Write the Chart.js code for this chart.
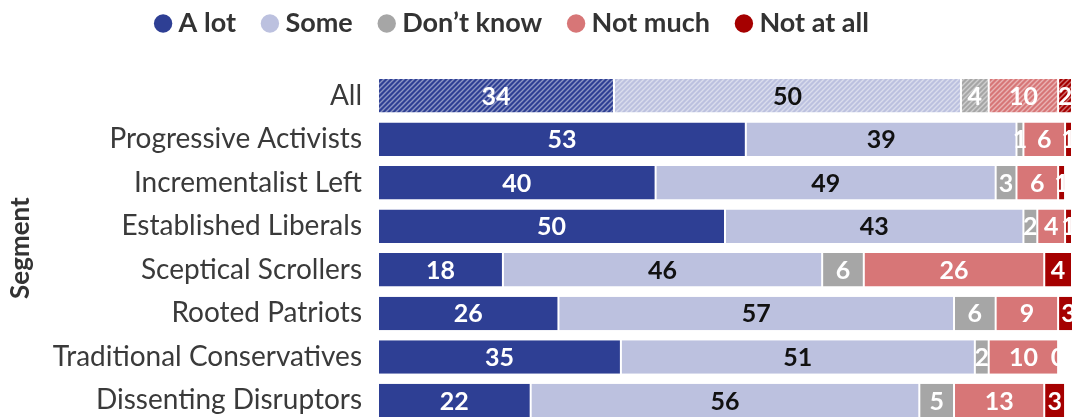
<!DOCTYPE html>
<html>
<head>
<meta charset="utf-8">
<script src="https://cdn.jsdelivr.net/npm/chart.js@4/dist/chart.umd.min.js"></script>
<style>
  html, body { margin: 0; padding: 0; background: #fff; overflow: hidden; }
  #wrap { position: absolute; left: -42px; top: 0; width: 1114px; height: 455px; }
</style>
</head>
<body>
<div id="wrap"><canvas id="myChart" width="1114" height="455"></canvas></div>
<script>
var segments = ['All', 'Progressive Activists', 'Incrementalist Left', 'Established Liberals',
    'Sceptical Scrollers', 'Rooted Patriots', 'Traditional Conservatives', 'Dissenting Disruptors'];
var seriesNames = ['A lot', 'Some', 'Don\u2019t know', 'Not much', 'Not at all'];
var aLot     = [34, 53, 40, 50, 18, 26, 35, 22];
var some     = [50, 39, 49, 43, 46, 57, 51, 56];
var dontKnow = [4, 1, 3, 2, 6, 6, 2, 5];
var notMuch  = [10, 6, 6, 4, 26, 9, 10, 13];
var notAtAll = [2, 1, 1, 1, 4, 3, 0, 3];

var colors = ['#2e3f94', '#bcc1df', '#a6a6a6', '#d77677', '#a50000'];
var labelColors = ['#fff', '#111', '#fff', '#fff', '#fff'];

// striped fill used for the "All" row
function stripes(color){
    var c = document.createElement('canvas');
    c.width = 5; c.height = 5;
    var g = c.getContext('2d');
    g.fillStyle = color;
    g.fillRect(0, 0, 5, 5);
    g.strokeStyle = 'rgba(255,255,255,0.45)';
    g.lineWidth = 1.4;
    g.beginPath();
    g.moveTo(0, 5); g.lineTo(5, 0);
    g.moveTo(-1, 1); g.lineTo(1, -1);
    g.moveTo(4, 6); g.lineTo(6, 4);
    g.stroke();
    return g.createPattern(c, 'repeat');
}

var values = [aLot, some, dontKnow, notMuch, notAtAll];
var datasets = [];
for(var i=0;i<values.length;i++){
    (function(i){
        var pat = stripes(colors[i]);
        datasets.push({
            label: seriesNames[i],
            data: values[i],
            backgroundColor: function(ctx){ return ctx.dataIndex === 0 ? pat : colors[i]; },
            borderColor: '#fff',
            borderWidth: {left: 1, right: 1, top: 0, bottom: 0},
            borderSkipped: false,
            barPercentage: 0.77,
            categoryPercentage: 1
        });
    })(i);
}

// numbers written in the middle of each segment
var barLabels = {
    id: 'barLabels',
    afterDatasetsDraw: function(chart){
        var ctx = chart.ctx;
        ctx.save();
        ctx.font = 'bold 25px Lato';
        ctx.textAlign = 'center';
        ctx.textBaseline = 'middle';
        chart.data.datasets.forEach(function(ds, i){
            var meta = chart.getDatasetMeta(i);
            meta.data.forEach(function(bar, j){
                ctx.fillStyle = labelColors[i];
                ctx.fillText(String(ds.data[j]), (bar.x + bar.base) / 2, bar.y + 1);
            });
        });
        ctx.restore();
    }
};

// extra room under the legend
var legendSpace = {
    id: 'legendSpace',
    beforeInit: function(chart){
        var fit = chart.legend.fit;
        chart.legend.fit = function(){
            fit.bind(this)();
            this.height += 27;
        };
    }
};

var ctx = document.getElementById('myChart').getContext('2d');
var myChart = new Chart(ctx, {
    type: 'bar',
    data: { labels: segments, datasets: datasets },
    plugins: [barLabels, legendSpace],
    options: {
        indexAxis: 'y',
        responsive: false,
        animation: false,
        devicePixelRatio: 1,
        layout: { padding: { top: -22, left: 0, right: 0, bottom: 0 } },
        plugins: {
            tooltip: { enabled: false },
            legend: {
                position: 'top',
                align: 'center',
                labels: {
                    usePointStyle: true,
                    pointStyle: 'circle',
                    boxWidth: 4,
                    boxHeight: 13,
                    padding: 32,
                    color: '#333',
                    font: { family: 'Lato', weight: 'bold', size: 27 },
                    generateLabels: function(chart){
                        var items = Chart.defaults.plugins.legend.labels.generateLabels(chart);
                        items.forEach(function(it, k){
                            it.fillStyle = colors[k];
                            it.strokeStyle = colors[k];
                            it.lineWidth = 0;
                        });
                        return items;
                    }
                }
            }
        },
        scales: {
            x: {
                stacked: true,
                display: false,
                min: 0,
                max: 100
            },
            y: {
                stacked: true,
                grid: { display: false, drawTicks: false },
                border: { display: false },
                ticks: {
                    padding: 16,
                    color: '#3a3a3a',
                    font: { family: 'Lato', size: 28 }
                },
                title: {
                    display: true,
                    text: 'Segment',
                    color: '#333',
                    padding: { top: 47, bottom: 0 },
                    font: { family: 'Lato', weight: 'bold', size: 26 }
                },
                afterFit: function(scale){ scale.width = 420; }
            }
        }
    }
});
</script>
</body>
</html>
